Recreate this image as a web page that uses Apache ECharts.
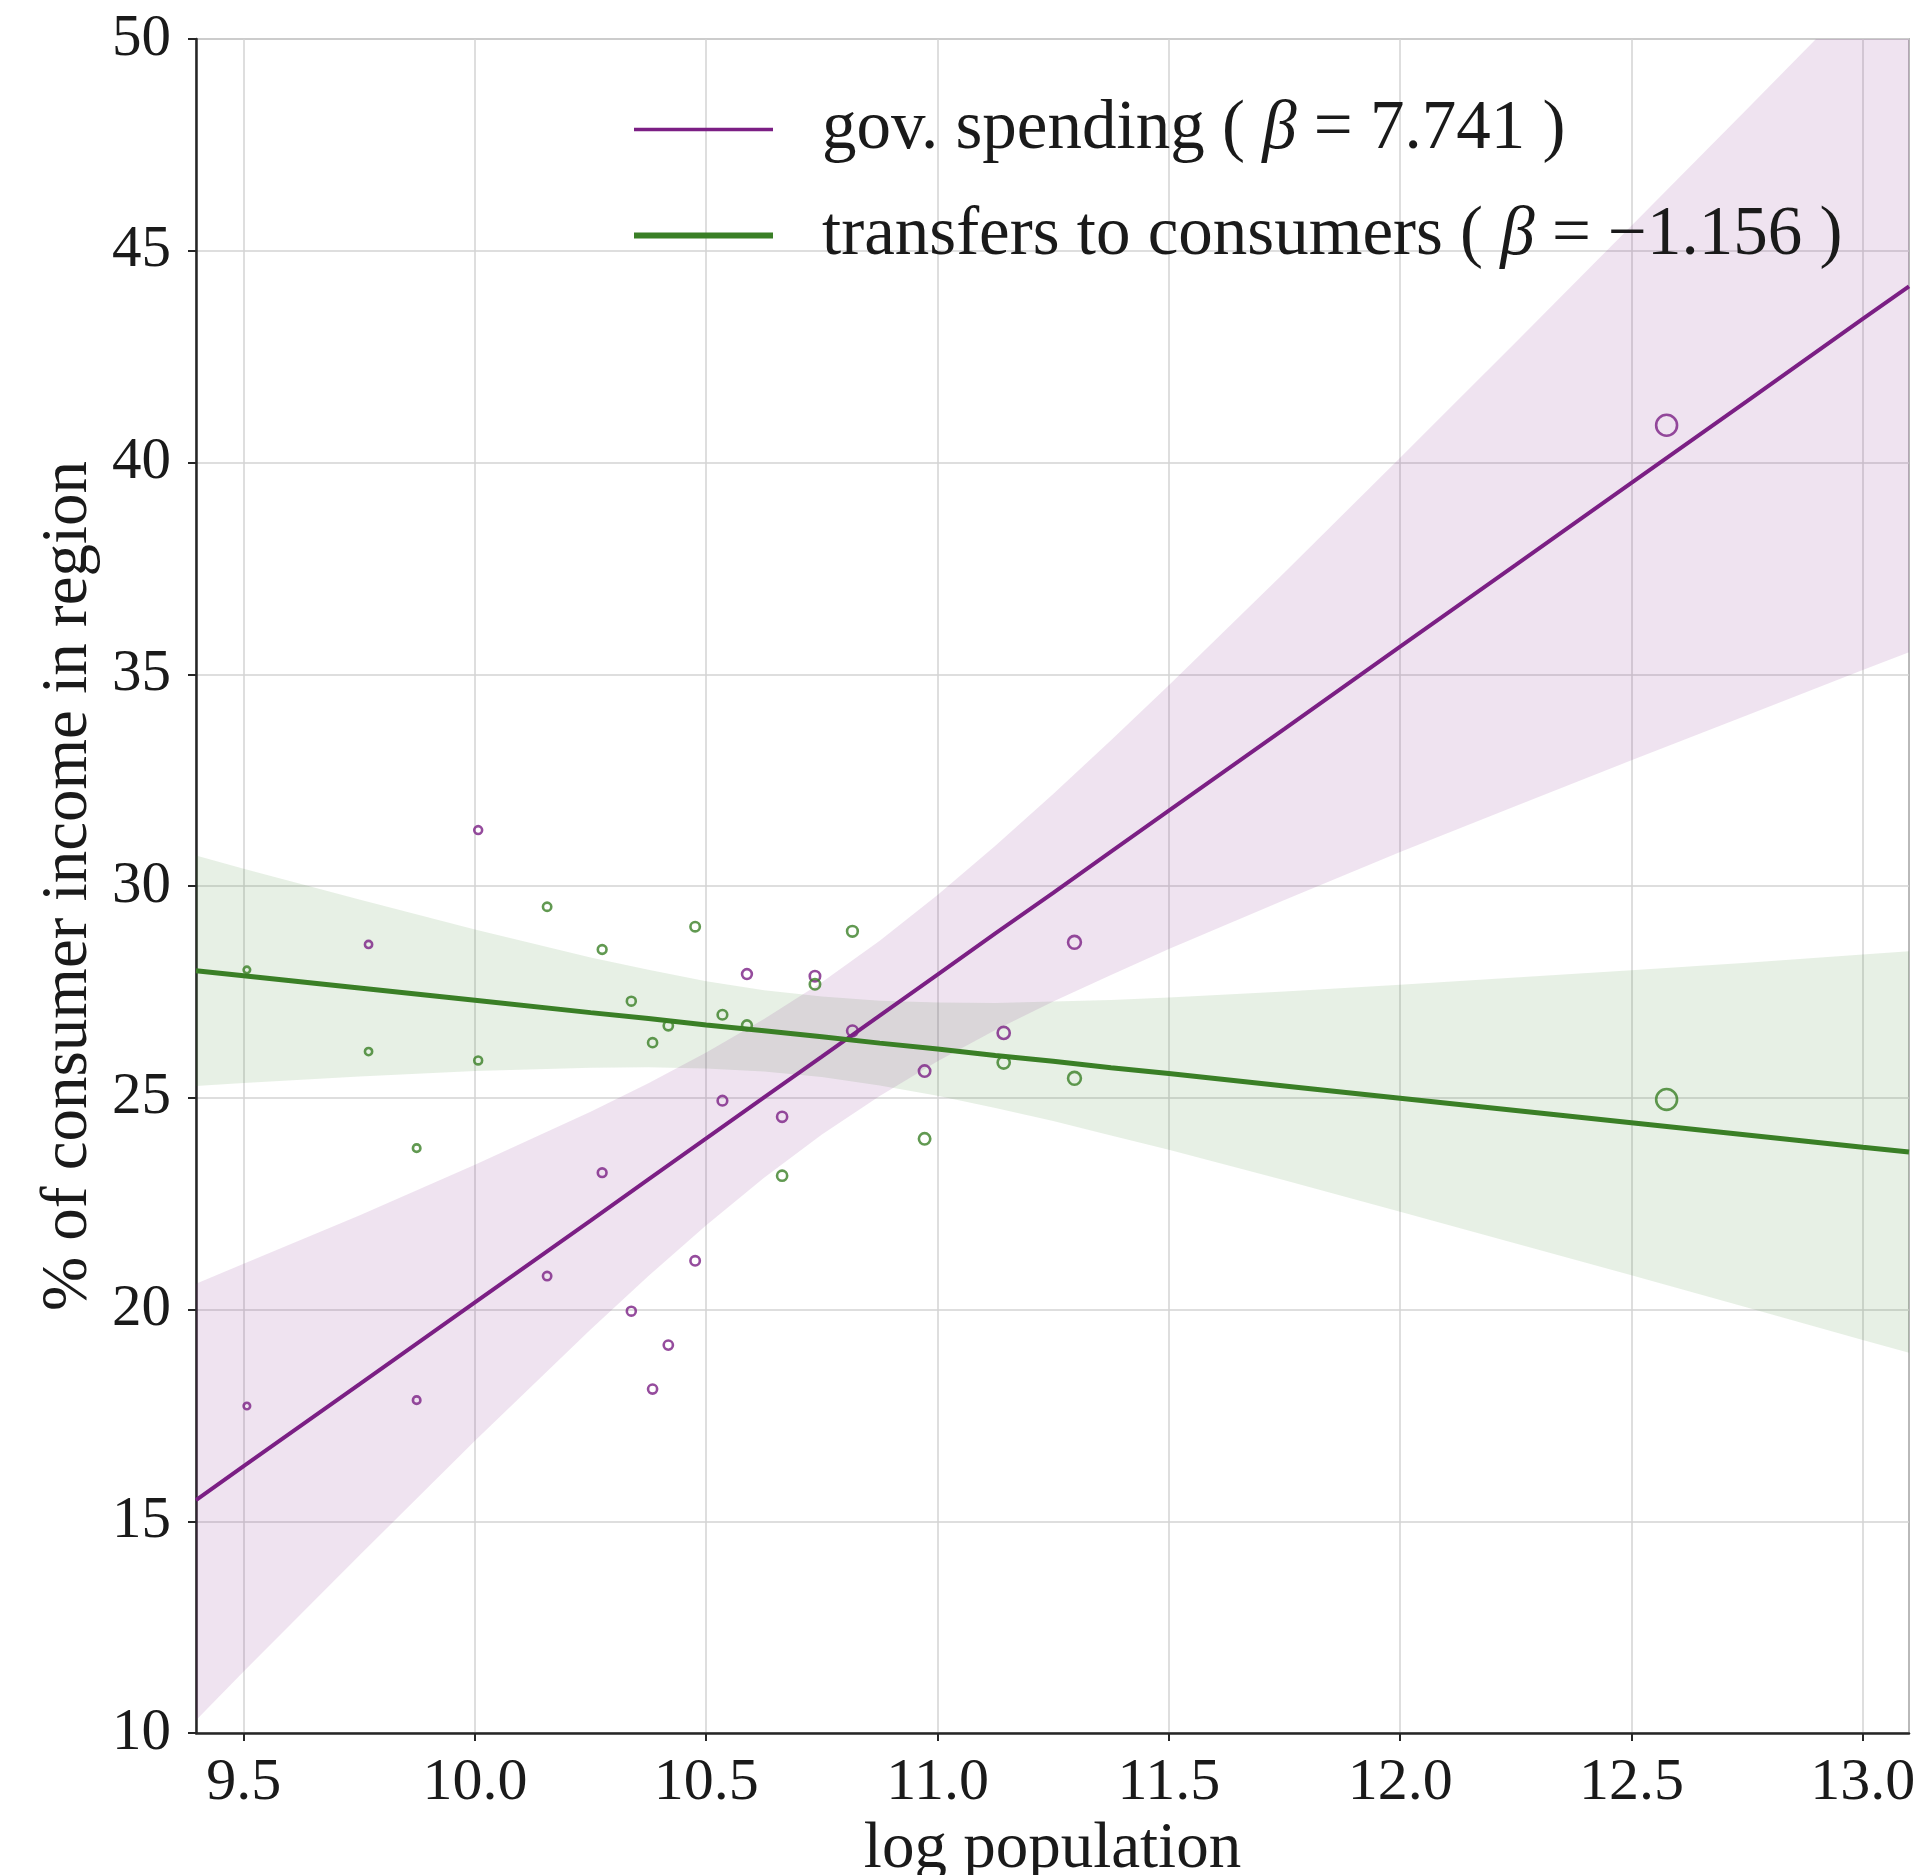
<!DOCTYPE html>
<html>
<head>
<meta charset="utf-8">
<title>log population vs % of consumer income in region</title>
<script src="https://cdn.jsdelivr.net/npm/echarts@6/dist/echarts.min.js"></script>
<style>
  html, body { margin: 0; padding: 0; background: #fff; }
  #main { width: 1922px; height: 1875px; }
</style>
</head>
<body>
<div id="main"></div>
<script>
// one row per region
const logPop = [9.507, 9.770, 9.874, 10.007, 10.156, 10.275, 10.338, 10.384, 10.418, 10.476,
  10.535, 10.588, 10.664, 10.735, 10.816, 10.972, 11.143, 11.296, 12.576];
const govSpending = [17.72, 28.62, 17.86, 31.32, 20.79, 23.23, 19.96, 18.12, 19.16, 21.15,
  24.93, 27.92, 24.55, 27.87, 26.58, 25.63, 26.53, 28.67, 40.88];
const transfers = [28.02, 26.09, 23.81, 25.88, 29.51, 28.50, 27.28, 26.30, 26.70, 29.04,
  26.96, 26.71, 23.16, 27.68, 28.93, 24.03, 25.83, 25.46, 24.96];

const fitX = [9.397, 9.5, 9.75, 10.0, 10.25, 10.375, 10.5, 10.625, 10.75, 10.875, 11.0, 11.125, 11.25,
  11.375, 11.5, 11.75, 12.0, 12.25, 12.5, 12.75, 13.0, 13.10];
const govFit = [15.5, 16.3, 18.23, 20.17, 22.1, 23.07, 24.04, 25.01, 25.97, 26.94, 27.91, 28.88, 29.84,
  30.81, 31.78, 33.71, 35.65, 37.58, 39.52, 41.45, 43.39, 44.16];
const govUpper = [20.61, 21.08, 22.22, 23.42, 24.67, 25.34, 26.07, 26.86, 27.73, 28.71, 29.79, 30.95, 32.17,
  33.44, 34.74, 37.4, 40.11, 42.84, 45.59, 48.35, 51.12, 52.22];
const govLower = [10.3, 11.45, 14.19, 16.9, 19.53, 20.79, 21.99, 23.11, 24.13, 25.04, 25.86, 26.6, 27.27,
  27.9, 28.51, 29.67, 30.8, 31.89, 32.97, 34.03, 35.1, 35.52];
const trFit = [28.0, 27.88, 27.59, 27.3, 27.01, 26.87, 26.72, 26.58, 26.44, 26.29, 26.15, 26.0, 25.86,
  25.71, 25.57, 25.28, 24.99, 24.7, 24.41, 24.12, 23.83, 23.72];
const trUpper = [30.72, 30.41, 29.68, 28.97, 28.31, 28.02, 27.75, 27.54, 27.39, 27.29, 27.25, 27.24, 27.27,
  27.31, 27.37, 27.51, 27.67, 27.84, 28.01, 28.19, 28.38, 28.46];
const trLower = [25.28, 25.35, 25.5, 25.63, 25.71, 25.72, 25.69, 25.62, 25.49, 25.29, 25.05, 24.76, 24.45,
  24.11, 23.77, 23.05, 22.31, 21.56, 20.81, 20.05, 19.28, 18.98];

const seriesNames = ['gov. spending', 'transfers to consumers'];
const betas = ['7.741', '\u22121.156'];
const xTicks = [9.5, 10.0, 10.5, 11.0, 11.5, 12.0, 12.5, 13.0];

const PURPLE = '#7b1f84';
const GREEN = '#3a7f26';
const FONT = "'Liberation Serif', 'DejaVu Serif', serif";
const INK = '#1a1a1a';

const chart = echarts.init(document.getElementById('main'));

function pairs(xs, ys) {
  return xs.map((x, i) => [x, ys[i]]);
}

// one filled polygon per band: upper edge left to right, lower edge back
function bandSeries(upper, lower, fill) {
  return {
    type: 'custom',
    clip: true,
    silent: true,
    z: 1,
    data: fitX.map((x, i) => [x, lower[i], upper[i]]),
    encode: { x: 0, y: [1, 2] },
    renderItem: function (params, api) {
      if (params.dataIndex !== 0) return null;
      const pts = [];
      for (let i = 0; i < fitX.length; i++) pts.push(api.coord([fitX[i], upper[i]]));
      for (let i = fitX.length - 1; i >= 0; i--) pts.push(api.coord([fitX[i], lower[i]]));
      return { type: 'polygon', shape: { points: pts }, style: { fill: fill } };
    }
  };
}

// marker grows with population
function pointSize(val) {
  return 6.5 * Math.exp(0.38 * (val[0] - 9.5));
}

const option = {
  animation: false,
  backgroundColor: '#fff',
  grid: {
    left: 196, top: 39, width: 1713, height: 1694,
    outerBoundsMode: 'none',
    containLabel: false,
    show: true, borderColor: '#b9b9b9', borderWidth: 2
  },
  legend: {
    data: [
      { name: seriesNames[0], lineStyle: { width: 3.5 } },
      { name: seriesNames[1], lineStyle: { width: 6 } }
    ],
    orient: 'vertical',
    left: 631, top: 95,
    padding: 0,
    itemWidth: 139, itemHeight: 4,
    itemGap: 37,
    itemStyle: { opacity: 0 },
    formatter: function (name) {
      const i = seriesNames.indexOf(name);
      return '{pad|}{t|' + name + ' ( }{b|\u03b2}{t| = ' + betas[i] + ' )}';
    },
    textStyle: {
      color: INK,
      rich: {
        pad: { width: 44 },
        t: { fontFamily: FONT, fontSize: 69, lineHeight: 70, color: INK },
        b: { fontFamily: FONT, fontSize: 69, lineHeight: 70, fontStyle: 'italic', color: INK }
      }
    }
  },
  xAxis: {
    type: 'value', min: 9.397, max: 13.10,
    name: 'log population', nameLocation: 'middle', nameGap: 80,
    nameTextStyle: { fontFamily: FONT, fontSize: 65, color: INK },
    axisLine: { show: true, onZero: false, lineStyle: { color: '#262626', width: 2.5 } },
    axisTick: { show: true, length: 8, customValues: xTicks, lineStyle: { color: '#262626', width: 2 } },
    axisLabel: {
      customValues: xTicks, margin: 20,
      formatter: v => v.toFixed(1),
      fontFamily: FONT, fontSize: 60, color: INK
    },
    splitLine: { show: true, lineStyle: { color: '#d3d3d3', width: 1.5 } }
  },
  yAxis: {
    type: 'value', min: 10, max: 50, interval: 5,
    name: '% of consumer income in region', nameLocation: 'middle', nameGap: 94, nameRotate: 90,
    nameTextStyle: { fontFamily: FONT, fontSize: 65, color: INK },
    axisLine: { show: true, onZero: false, lineStyle: { color: '#262626', width: 2.5 } },
    axisTick: { show: true, length: 8, lineStyle: { color: '#262626', width: 2 } },
    axisLabel: { margin: 25, fontFamily: FONT, fontSize: 59, color: INK },
    splitLine: { show: true, lineStyle: { color: '#d3d3d3', width: 1.5 } }
  },
  series: [
    bandSeries(trUpper, trLower, 'rgba(60, 130, 40, 0.12)'),
    bandSeries(govUpper, govLower, 'rgba(128, 40, 140, 0.13)'),
    {
      name: seriesNames[0],
      type: 'line', z: 3,
      data: pairs(fitX, govFit),
      symbol: 'none',
      lineStyle: { color: PURPLE, width: 4 },
      itemStyle: { color: PURPLE }
    },
    {
      name: seriesNames[1],
      type: 'line', z: 3,
      data: pairs(fitX, trFit),
      symbol: 'none',
      lineStyle: { color: GREEN, width: 5 },
      itemStyle: { color: GREEN }
    },
    {
      name: 'gov. spending (regions)',
      type: 'scatter', z: 4,
      data: pairs(logPop, govSpending),
      symbol: 'circle',
      symbolSize: pointSize,
      itemStyle: { color: 'rgba(255,255,255,0)', borderColor: PURPLE, borderWidth: 2.6 }
    },
    {
      name: 'transfers to consumers (regions)',
      type: 'scatter', z: 4,
      data: pairs(logPop, transfers),
      symbol: 'circle',
      symbolSize: pointSize,
      itemStyle: { color: 'rgba(255,255,255,0)', borderColor: GREEN, borderWidth: 2.6 }
    }
  ]
};

chart.setOption(option);
</script>
</body>
</html>
